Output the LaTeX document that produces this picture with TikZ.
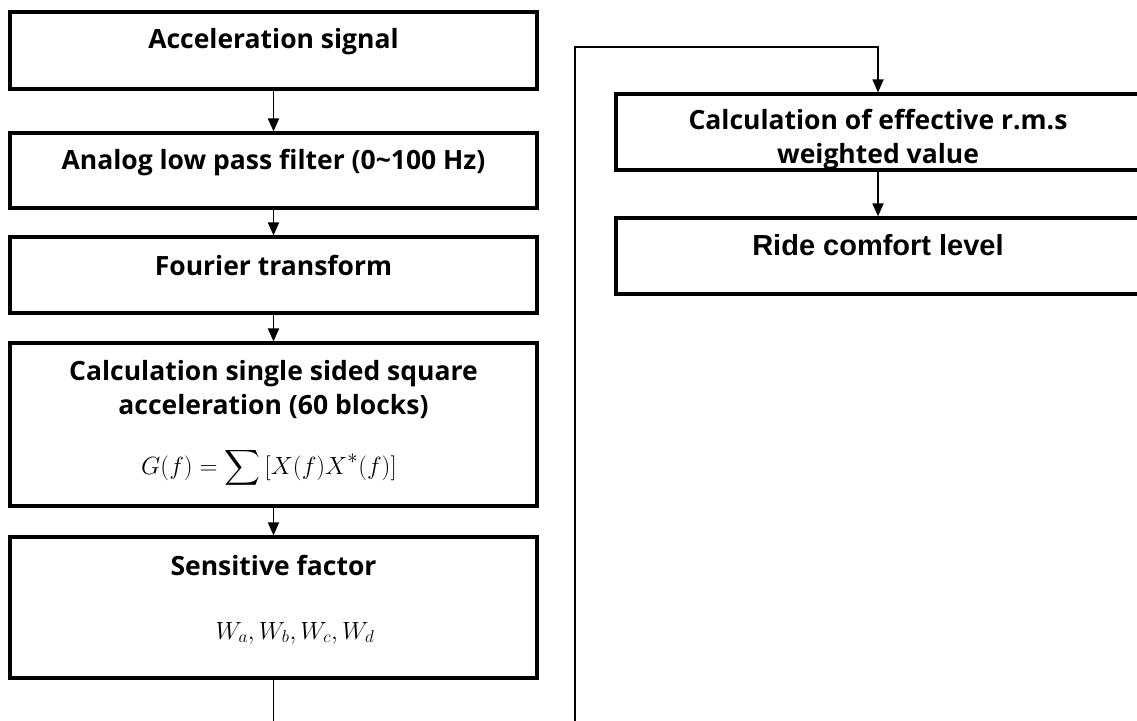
\documentclass[tikz,border=0pt]{standalone}
\usepackage{fontspec}
\usepackage{amsmath}
\usetikzlibrary{arrows.meta}
\newfontfamily\mainsans{Open Sans}
\newfontfamily\arialf{Liberation Sans}
\begin{document}
\begin{tikzpicture}[x=1pt,y=-1pt,
  box/.style={draw, line width=3.2pt, rectangle, inner sep=0pt},
  lbox/.style={box, minimum width=527pt},
  rbox/.style={box, minimum width=524pt},
  lbl/.style={inner sep=0pt, align=center, font=\mainsans\bfseries\fontsize{26.5}{34}\selectfont},
  conn/.style={line width=1.8pt, -{Triangle[length=13pt,width=11pt]}},
  plain/.style={line width=1.8pt}]
\useasboundingbox[fill=white] (0,0) rectangle (1137,720);
% texts
\node[lbl] (t1) at (273.5,42) {Acceleration signal};
\node[lbl] (t2) at (273.5,163) {Analog low pass filter (0\textasciitilde100 Hz)};
\node[lbl] (t3) at (273.5,265) {Fourier transform};
\node[lbl] (t4) at (273.5,390) {Calculation single sided square\\acceleration (60 blocks)};
\node[inner sep=0pt, font=\fontsize{30}{34}\selectfont] (t4m) at (269,468) {$\displaystyle G(f)=\sum\,[X(f)X^{*}(f)]$};
\node[inner sep=0pt, font=\fontsize{26.5}{30}\selectfont] (t5m) at (295,633) {$W_a,W_b,W_c,W_d$};
\node[lbl] (t5) at (273.5,565) {Sensitive factor};
\node[lbl] (r1t) at (878,139.5) {Calculation of effective r.m.s\\weighted value};
\node[lbl, font=\arialf\bfseries\fontsize{29}{34}\selectfont] (r2t) at (878,245) {Ride comfort level};
% boxes
\node[lbox, minimum height=77pt] (b1) at (273.5,50.5) {};
\node[lbox, minimum height=75pt] (b2) at (273.5,170.5) {};
\node[lbox, minimum height=76pt] (b3) at (273.5,275) {};
\node[lbox, minimum height=163pt] (b4) at (273.5,424.5) {};
\node[lbox, minimum height=141pt] (b5) at (273.5,607.5) {};
\node[rbox, minimum height=76pt] (r1) at (878,132) {};
\node[rbox, minimum height=76pt] (r2) at (878,256) {};
% connectors
\draw[conn] (b1) -- (b2);
\draw[conn] (b2) -- (b3);
\draw[conn] (b3) -- (b4);
\draw[conn] (b4) -- (b5);
\draw[conn] (r1) -- (r2);
\coordinate (low) at (575,760);
\coordinate (up) at (575,47);
\draw[conn] (b5.south) |- (low) -- (up) -| (r1.north);
\end{tikzpicture}
\end{document}
